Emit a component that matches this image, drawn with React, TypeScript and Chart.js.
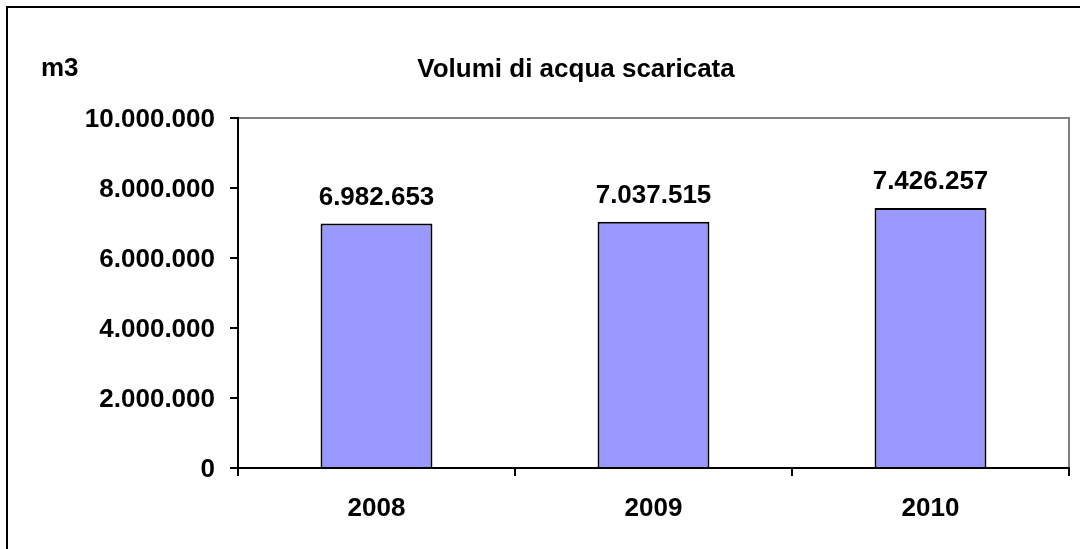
import React, { useEffect, useRef } from "react";
import { Chart, registerables } from "chart.js";

Chart.register(...registerables);

const categories = ["2008", "2009", "2010"];
const volumes = [6982653, 7037515, 7426257];
const yTicks = [0, 2000000, 4000000, 6000000, 8000000, 10000000];
const titleText = "Volumi di acqua scaricata";
const unitText = "m3";

const FONT_FAMILY = "'Liberation Sans', Arial, sans-serif";

function fmt(v: number): string {
  return String(Math.round(v)).replace(/\B(?=(\d{3})+(?!\d))/g, ".");
}

const framePlugin = {
  id: "frame",
  beforeDraw(chart: any) {
    const ctx = chart.ctx;
    const a = chart.chartArea;
    ctx.save();
    // outer frame
    ctx.strokeStyle = "#000";
    ctx.lineWidth = 2;
    ctx.strokeRect(7, 7, chart.width + 100, chart.height + 100);
    // plot area frame
    ctx.strokeStyle = "#808080";
    ctx.lineWidth = 2;
    ctx.strokeRect(a.left, a.top, a.right - a.left, a.bottom - a.top);
    // texts
    ctx.fillStyle = "#000";
    ctx.font = `bold 26px ${FONT_FAMILY}`;
    ctx.textBaseline = "alphabetic";
    ctx.textAlign = "center";
    ctx.fillText(titleText, 576, 77);
    ctx.textAlign = "left";
    ctx.fillText(unitText, 41, 76);
    ctx.restore();
  },
  afterDatasetsDraw(chart: any) {
    const ctx = chart.ctx;
    const meta = chart.getDatasetMeta(0);
    ctx.save();
    ctx.fillStyle = "#000";
    ctx.font = `bold 26px ${FONT_FAMILY}`;
    ctx.textAlign = "center";
    ctx.textBaseline = "alphabetic";
    meta.data.forEach((bar: any, i: number) => {
      ctx.fillText(fmt(volumes[i]), bar.x, bar.y - 19);
    });
    ctx.restore();
  },
};

export default function App() {
  const ref = useRef<HTMLCanvasElement>(null);
  useEffect(() => {
    if (!ref.current) return;
    const chart = new Chart(ref.current, {
      type: "bar",
      data: {
        labels: categories,
        datasets: [
          {
            data: volumes,
            backgroundColor: "#9999FF",
            borderColor: "#000",
            borderWidth: 2,
            categoryPercentage: 1,
            barPercentage: 0.404,
          },
        ],
      },
      plugins: [framePlugin],
      options: {
        responsive: false,
        animation: false,
        devicePixelRatio: 1,
        layout: { padding: { left: 0, top: 118, right: 11, bottom: 0 } },
        plugins: {
          legend: { display: false },
          title: { display: false },
          tooltip: { enabled: false },
        },
        scales: {
          x: {
            grid: {
              offset: true,
              drawOnChartArea: false,
              drawTicks: true,
              tickLength: 8,
              color: "#000",
              lineWidth: 2,
            },
            border: { display: true, color: "#000", width: 2 },
            ticks: {
              color: "#000",
              padding: 17,
              font: { family: FONT_FAMILY, size: 26, weight: "bold" },
            },
            afterFit(scale: any) {
              scale.height = 81;
            },
          },
          y: {
            min: 0,
            max: 10000000,
            afterBuildTicks(scale: any) {
              scale.ticks = yTicks.map((v) => ({ value: v }));
            },
            grid: {
              drawOnChartArea: false,
              drawTicks: true,
              tickLength: 8,
              color: "#000",
              lineWidth: 2,
            },
            border: { display: true, color: "#000", width: 2 },
            ticks: {
              color: "#000",
              padding: 15,
              labelOffset: 2,
              font: { family: FONT_FAMILY, size: 26, weight: "bold" },
              callback: (v: any) => fmt(Number(v)),
            },
            afterFit(scale: any) {
              scale.width = 238;
            },
          },
        },
      },
    });
    return () => chart.destroy();
  }, []);
  return (
    <div style={{ position: "fixed", left: 0, top: 0, width: 1080, height: 549, overflow: "hidden", background: "#fff" }}>
      <canvas ref={ref} width={1080} height={549} style={{ display: "block" }} />
    </div>
  );
}
